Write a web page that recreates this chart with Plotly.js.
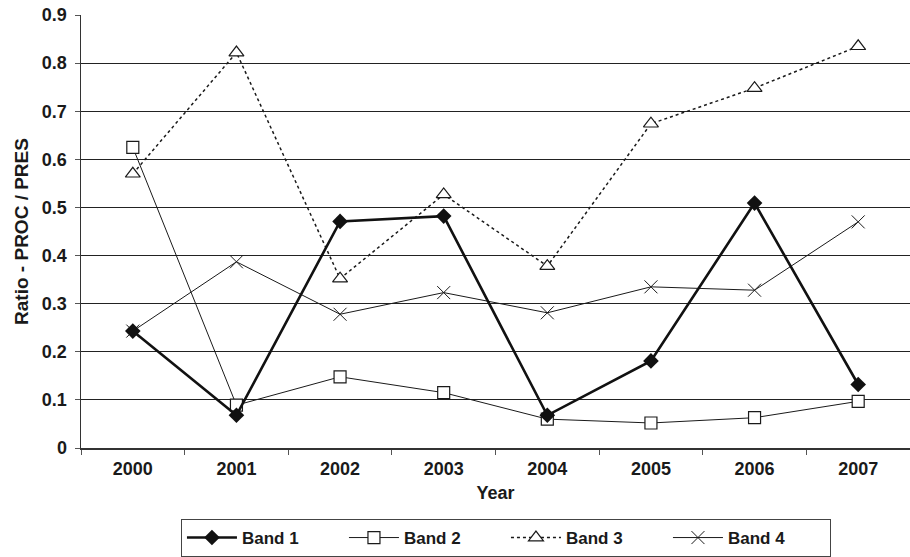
<!DOCTYPE html>
<html>
<head>
<meta charset="utf-8">
<script src="https://cdn.plot.ly/plotly-3.0.1.min.js"></script>
<style>html,body{margin:0;padding:0;background:#fff;}#chart{width:910px;height:557px;}</style>
</head>
<body>
<div id="chart"></div>
<script>
const years = ["2000","2001","2002","2003","2004","2005","2006","2007"];
const band1 = [0.243, 0.068, 0.471, 0.482, 0.068, 0.181, 0.509, 0.132];
const band2 = [0.625, 0.089, 0.148, 0.115, 0.060, 0.052, 0.063, 0.097];
const band3 = [0.570, 0.822, 0.352, 0.527, 0.378, 0.674, 0.748, 0.835];
const band4 = [0.243, 0.387, 0.278, 0.323, 0.281, 0.335, 0.328, 0.470];
const seriesNames = ["Band 1", "Band 2", "Band 3", "Band 4"];
const yTicks = [0, 0.1, 0.2, 0.3, 0.4, 0.5, 0.6, 0.7, 0.8, 0.9];
const yTickText = ["0", "0.1", "0.2", "0.3", "0.4", "0.5", "0.6", "0.7", "0.8", "0.9"];

const font = "Liberation Sans, Arial, sans-serif";
const traces = [
  {x: years, y: band4, name: seriesNames[3], mode: "lines+markers",
   line: {color: "#1a1a1a", width: 1},
   marker: {symbol: "x-thin-open", size: 13, color: "#1a1a1a", line: {width: 1, color: "#1a1a1a"}}},
  {x: years, y: band3, name: seriesNames[2], mode: "lines+markers",
   line: {color: "#1a1a1a", width: 1.5, dash: "dot"},
   marker: {symbol: "triangle-up", size: 13, color: "#fff", line: {width: 1.2, color: "#1a1a1a"}}},
  {x: years, y: band2, name: seriesNames[1], mode: "lines+markers",
   line: {color: "#1a1a1a", width: 1},
   marker: {symbol: "square", size: 12, color: "#fff", line: {width: 1.2, color: "#1a1a1a"}}},
  {x: years, y: band1, name: seriesNames[0], mode: "lines+markers",
   line: {color: "#111", width: 2.6},
   marker: {symbol: "diamond", size: 12, color: "#111", line: {width: 0}}}
];
const order = [3, 2, 1, 0];
order.forEach((i, k) => { traces[i].legendrank = k + 1; });

const layout = {
  width: 910, height: 557,
  margin: {l: 81, r: 0, t: 15, b: 109},
  paper_bgcolor: "#fff", plot_bgcolor: "#fff",
  font: {family: font, color: "#1a1a1a"},
  showlegend: true,
  legend: {
    orientation: "h", xref: "container", yref: "container",
    x: 0.556, xanchor: "center", y: 0.0, yanchor: "bottom",
    bordercolor: "#444", borderwidth: 1,
    font: {family: font, size: 17, color: "#1a1a1a", weight: "bold"},
    entrywidth: 97, itemwidth: 50, traceorder: "normal"
  },
  xaxis: {
    type: "category", range: [-0.5, 7.5],
    showline: true, linecolor: "#333", linewidth: 1.5,
    ticks: "outside", tickson: "boundaries", ticklen: 5, tickcolor: "#555", ticklabelstandoff: 4,
    showgrid: false, zeroline: false,
    tickfont: {family: font, size: 18, color: "#1a1a1a", weight: "bold"},
    title: {text: "Year", font: {family: font, size: 18, color: "#1a1a1a", weight: "bold"}, standoff: 8}
  },
  yaxis: {
    range: [0, 0.9], tickvals: yTicks, ticktext: yTickText,
    showline: true, linecolor: "#333", linewidth: 1.5,
    ticks: "outside", ticklen: 5, tickcolor: "#555", ticklabelstandoff: 4,
    showgrid: true, gridcolor: "#222", gridwidth: 1, zeroline: false,
    tickfont: {family: font, size: 18, color: "#1a1a1a", weight: "bold"},
    title: {text: "Ratio - PROC / PRES", font: {family: font, size: 19, color: "#1a1a1a", weight: "bold"}, standoff: 8}
  }
};
Plotly.newPlot("chart", traces, layout, {displayModeBar: false, staticPlot: true});
</script>
</body>
</html>
